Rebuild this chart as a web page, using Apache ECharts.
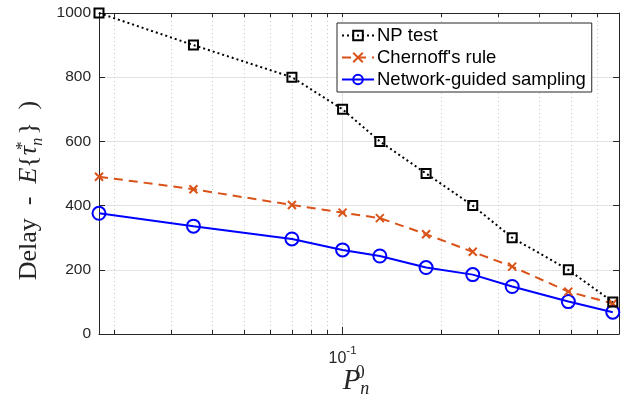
<!DOCTYPE html>
<html>
<head>
<meta charset="utf-8">
<script src="https://cdn.jsdelivr.net/npm/echarts@6/dist/echarts.min.js"></script>
<style>
	html, body { margin: 0; padding: 0; background: #fff; }
	#chart { width: 624px; height: 405px; }
</style>
</head>
<body>
<div id="chart"></div>
<script>
// P_n^0 values (log axis)
var pValues = [0.018, 0.035, 0.07, 0.1, 0.13, 0.18, 0.25, 0.33, 0.49, 0.67];
var npTest = [1000, 900, 800, 700, 600, 500, 400, 300, 200, 100];
var chernoff = [490, 451, 402, 378, 361, 311, 256, 210, 132, 95];
var networkGuided = [376, 336, 296, 262, 243, 207, 185, 148, 101, 68];
var seriesNames = ['NP test', "Chernoff's rule", 'Network-guided sampling'];
var minorTicks = [0.02, 0.03, 0.04, 0.05, 0.06, 0.07, 0.08, 0.09, 0.1, 0.2, 0.3, 0.4, 0.5, 0.6];
var majorTicks = [0.1];

var xRange = [0.018, 0.7];
var crossPath = 'path://M0,0L10,10M10,0L0,10';

function pairs(ys) {
	return ys.map(function(y, i) { return [pValues[i], y]; });
}

var chart = echarts.init(document.getElementById('chart'));

var sans = 'Liberation Sans, Arial, sans-serif';
var serif = 'Liberation Serif, serif';

chart.setOption({
	animation: false,
	grid: { left: 99, right: 5, top: 13, bottom: 71, containLabel: false, outerBoundsMode: 'none' },
	legend: {
		orient: 'vertical',
		left: 337,
		top: 23,
		padding: [3, 6, 3, 4],
		itemGap: 3,
		itemWidth: 32,
		itemHeight: 12,
		backgroundColor: '#fff',
		borderColor: '#262626',
		borderWidth: 1,
		borderRadius: 0,
		textStyle: { fontFamily: sans, fontSize: 18.5, color: '#000', padding: [0, 0, 0, -2] },
		data: seriesNames
	},
	xAxis: [{
		type: 'log',
		position: 'bottom',
		min: xRange[0],
		max: xRange[1],
		axisLine: { show: true, onZero: false, lineStyle: { color: '#262626', width: 1 } },
		axisTick: { show: true, inside: true, length: 4, customValues: minorTicks, lineStyle: { color: '#262626' } },
		axisLabel: {
			customValues: majorTicks,
			margin: 11,
			formatter: function() { return '{b|10}{s|-1}'; },
			rich: {
				b: { fontFamily: sans, fontSize: 16, color: '#262626', verticalAlign: 'bottom', lineHeight: 22 },
				s: { fontFamily: sans, fontSize: 11.5, color: '#262626', verticalAlign: 'top', lineHeight: 14 }
			}
		},
		splitLine: { show: true, lineStyle: { color: '#c8c8c8', type: [1, 3], width: 1 } },
		name: '{p|P}{sup|0}{sub|n}',
		nameLocation: 'middle',
		nameGap: 30,
		nameMoveOverlap: false,
		nameTextStyle: {
			padding: [0, 6, 0, 0],
			rich: {
				p: { fontFamily: serif, fontStyle: 'italic', fontSize: 29, color: '#262626', verticalAlign: 'middle', lineHeight: 34 },
				sup: { fontFamily: serif, fontSize: 18, color: '#262626', width: 0, verticalAlign: 'top', lineHeight: 20 },
				sub: { fontFamily: serif, fontStyle: 'italic', fontSize: 18, color: '#262626', verticalAlign: 'bottom', lineHeight: 14 }
			}
		}
	}, {
		type: 'log',
		position: 'top',
		min: xRange[0],
		max: xRange[1],
		axisLine: { show: true, onZero: false, lineStyle: { color: '#262626', width: 1 } },
		axisTick: { show: true, inside: true, length: 4, customValues: minorTicks, lineStyle: { color: '#262626' } },
		axisLabel: { show: false },
		splitLine: { show: false }
	}, {
		type: 'log',
		position: 'bottom',
		min: xRange[0],
		max: xRange[1],
		axisLine: { show: false },
		axisTick: { show: true, inside: true, length: 7, customValues: majorTicks, lineStyle: { color: '#262626' } },
		axisLabel: { show: false },
		splitLine: { show: true, lineStyle: { color: '#e3e3e3', type: 'solid', width: 1 } }
	}],
	yAxis: [{
		type: 'value',
		position: 'left',
		min: 0,
		max: 1000,
		interval: 200,
		axisLine: { show: true, onZero: false, lineStyle: { color: '#262626', width: 1 } },
		axisTick: { show: true, inside: true, length: 6, lineStyle: { color: '#262626' } },
		axisLabel: { fontFamily: sans, fontSize: 15.5, color: '#262626', margin: 8, formatter: function(v) { return String(v); } },
		splitLine: { show: true, lineStyle: { color: '#e3e3e3', width: 1 } },
		name: '{t|Delay  -  }{i|E}{t|{}{i|τ}{sup|*}{sub|n}}  )',
		nameLocation: 'middle',
		nameRotate: 90,
		nameGap: 54,
		nameTextStyle: {
			fontFamily: serif,
			fontSize: 26,
			color: '#262626',
			lineHeight: 32,
			verticalAlign: 'middle',
			padding: [0, 34, 0, 0],
			rich: {
				t: { fontFamily: serif, fontSize: 26, color: '#262626', verticalAlign: 'middle', lineHeight: 32 },
				i: { fontFamily: serif, fontStyle: 'italic', fontSize: 26, color: '#262626', verticalAlign: 'middle', lineHeight: 32 },
				sup: { fontFamily: serif, fontSize: 17, color: '#262626', width: 0, verticalAlign: 'top', lineHeight: 16 },
				sub: { fontFamily: serif, fontStyle: 'italic', fontSize: 16, color: '#262626', verticalAlign: 'bottom', lineHeight: 13, padding: [0, 3, 0, 0] }
			}
		}
	}, {
		type: 'value',
		position: 'right',
		min: 0,
		max: 1000,
		interval: 200,
		axisLine: { show: true, onZero: false, lineStyle: { color: '#262626', width: 1 } },
		axisTick: { show: true, inside: true, length: 6, lineStyle: { color: '#262626' } },
		axisLabel: { show: false },
		splitLine: { show: false }
	}],
	series: [{
		name: seriesNames[0],
		type: 'line',
		data: pairs(npTest),
		clip: false,
		symbol: 'rect',
		symbolSize: 9,
		z: 4,
		itemStyle: { color: 'rgba(255,255,255,0)', borderColor: '#000', borderWidth: 2 },
		lineStyle: { color: '#000', width: 2, type: [2, 3] }
	}, {
		name: seriesNames[1],
		type: 'line',
		data: pairs(chernoff),
		clip: false,
		symbol: crossPath,
		symbolSize: 8,
		z: 3,
		itemStyle: { color: 'rgba(255,255,255,0)', borderColor: '#D95319', borderWidth: 2 },
		lineStyle: { color: '#D95319', width: 2, type: [9, 6] }
	}, {
		name: seriesNames[2],
		type: 'line',
		data: pairs(networkGuided),
		clip: false,
		symbol: 'circle',
		symbolSize: 13,
		z: 2,
		itemStyle: { color: 'rgba(255,255,255,0)', borderColor: '#0000FF', borderWidth: 2 },
		lineStyle: { color: '#0000FF', width: 2 }
	}]
});
</script>
</body>
</html>
